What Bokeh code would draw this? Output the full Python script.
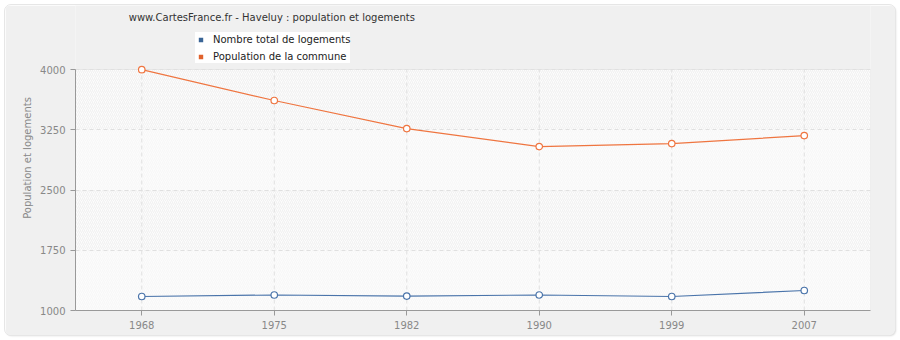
from bokeh.plotting import figure
from bokeh.models import (FactorRange, FixedTicker, Legend, LegendItem, BoxAnnotation,
                          ColumnDataSource)
from bokeh.core.properties import value
from bokeh.embed import file_html
from bokeh.resources import INLINE

years = ["1968", "1975", "1982", "1990", "1999", "2007"]
logements = [1174, 1193, 1180, 1193, 1174, 1249]
population = [3998, 3614, 3265, 3041, 3078, 3177]
y_ticks = [1000, 1750, 2500, 3250, 4000]

title_text = "www.CartesFrance.fr - Haveluy : population et logements"
y_label = "Population et logements"
leg_labels = ["Nombre total de logements", "Population de la commune"]

FONT = "DejaVu Sans"
BLUE = "#4a74aa"
ORANGE = "#ef7540"
BG = "#f0f0f0"

ymin, ymax = y_ticks[0], y_ticks[-1]
px_per_unit = 241.0 / (ymax - ymin)
top_extra = 64 / px_per_unit

p = figure(width=890, height=330, x_range=FactorRange(*years),
           y_range=(ymin, ymax + top_extra),
           output_backend="svg", toolbar_location=None,
           min_border_left=70, min_border_right=25, min_border_top=0, min_border_bottom=25)
p.margin = (5, 5, 5, 5)
p.styles = {"border-radius": "6px", "overflow": "hidden",
            "box-shadow": "1px 1px 2px #d8d8d8", "outline": "1px solid #e6e6e6"}
p.border_fill_color = BG
p.background_fill_color = BG
p.outline_line_color = None

area = BoxAnnotation(bottom=ymin, top=ymax, fill_color="#fcfcfc", fill_alpha=1.0,
                     line_color="#e6e6e6", line_alpha=1.0, line_width=1,
                     hatch_pattern="/", hatch_color="#f4f4f4", hatch_alpha=1.0,
                     hatch_scale=4, hatch_weight=0.6, level="underlay")
bands = [BoxAnnotation(bottom=y_ticks[i], top=y_ticks[i + 1], fill_color=None, line_color=None,
                       hatch_pattern="/", hatch_color="#ececec", hatch_alpha=1.0, hatch_scale=4,
                       hatch_weight=0.6, level="underlay")
         for i in (1, 3)]
p.center = [area] + bands + list(p.center)

p.segment(x0=years, y0=[ymin] * len(years), x1=years, y1=[ymax] * len(years),
          line_color="#e0e0e0", line_dash="4 3", line_width=1)

src = ColumnDataSource(dict(x=years, log=logements, pop=population))
p.line("x", "log", source=src, line_color=BLUE, line_width=1.2)
p.scatter("x", "log", source=src, size=6.5, fill_color="white", line_color=BLUE, line_width=1.2)
p.line("x", "pop", source=src, line_color=ORANGE, line_width=1.2)
p.scatter("x", "pop", source=src, size=6.5, fill_color="white", line_color=ORANGE, line_width=1.2)

sq1 = p.scatter(x=[years[0]], y=[-1000], marker="square", size=6, color="#3a6596", line_color=None)
sq2 = p.scatter(x=[years[0]], y=[-1000], marker="square", size=6, color="#e0622c", line_color=None)

legend = Legend(items=[LegendItem(label=leg_labels[0], renderers=[sq1]),
                       LegendItem(label=leg_labels[1], renderers=[sq2])],
                location=(120, 247),
                background_fill_color="white", border_line_color=None,
                label_text_font=FONT, label_text_font_size="10px", label_text_color="#222222",
                glyph_width=11, glyph_height=11, label_standoff=7, spacing=3, padding=3,
                label_height=14, margin=0)
p.add_layout(legend, "center")

p.text(x=[years[0]], y=[ymax + 52 / px_per_unit], text=[title_text], x_offset=-13,
       text_font=value(FONT), text_font_size="10px", text_color="#333333",
       text_align="left", text_baseline="middle")

for ax in (p.xaxis, p.yaxis):
    ax.axis_line_color = "#999999"
    ax.major_tick_line_color = "#999999"
    ax.major_tick_in = 0
    ax.major_tick_out = 5
    ax.minor_tick_line_color = None
    ax.major_label_text_font = FONT
    ax.major_label_text_font_size = "10px"
    ax.major_label_text_color = "#888888"

p.yaxis.ticker = FixedTicker(ticks=y_ticks)
p.yaxis.bounds = (ymin, ymax)
p.yaxis.axis_label = y_label
p.yaxis.axis_label_text_font = FONT
p.yaxis.axis_label_text_font_size = "10px"
p.yaxis.axis_label_text_font_style = "normal"
p.yaxis.axis_label_text_color = "#888888"
p.yaxis.axis_label_standoff = 4

p.xgrid.grid_line_color = None
p.ygrid.grid_line_color = "#e0e0e0"
p.ygrid.grid_line_dash = "4 3"

open("out.html", "w").write(file_html(p, INLINE))
